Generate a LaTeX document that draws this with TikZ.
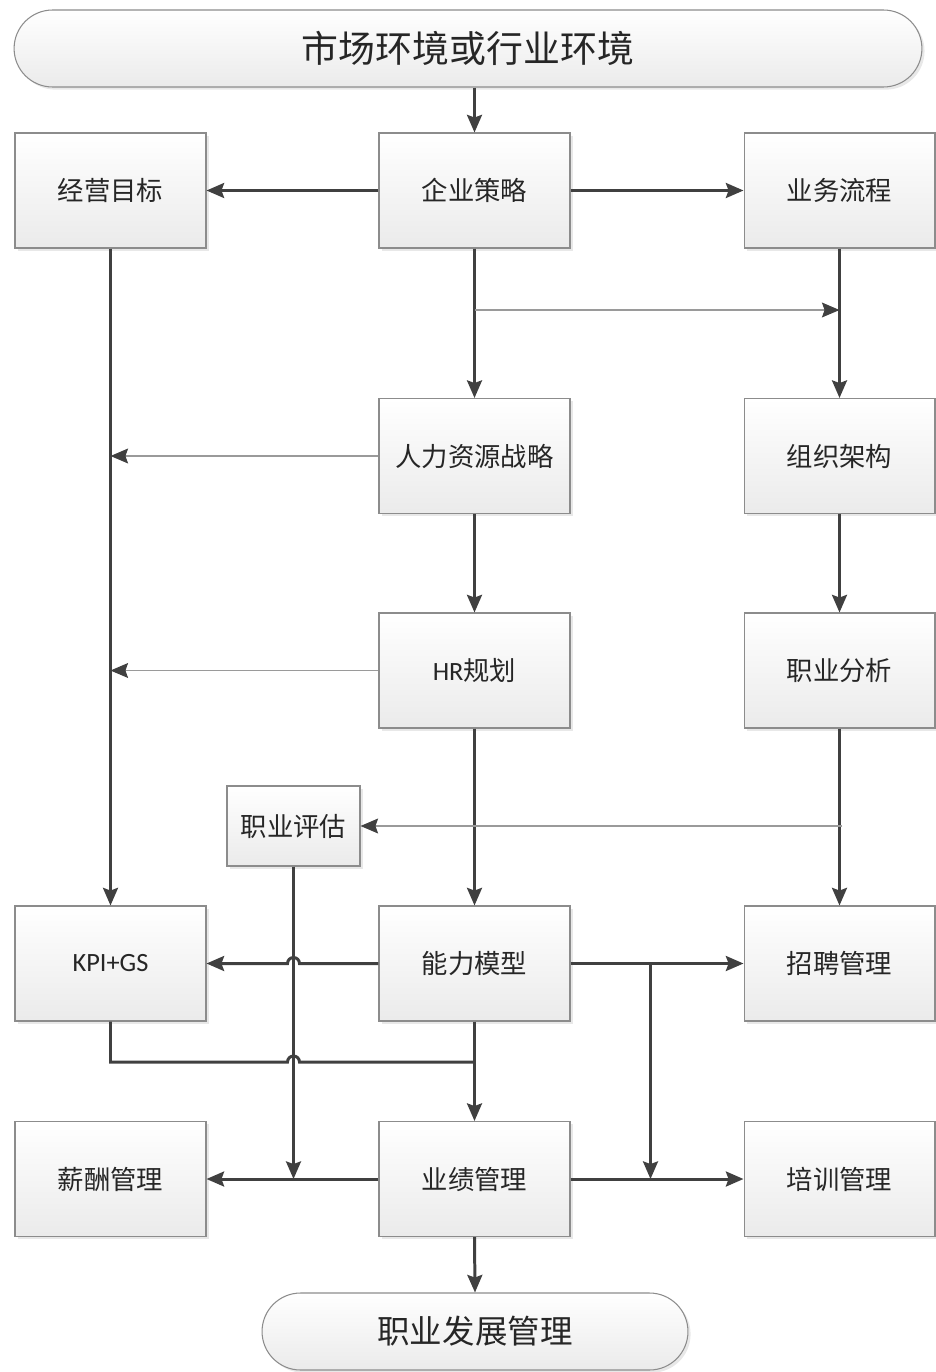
\documentclass[tikz,border=0pt]{standalone}
\usepackage{fontspec}
\newfontfamily\cjk{Noto Sans CJK SC}
\newfontfamily\lat{Carlito}
\usetikzlibrary{arrows.meta,shapes.misc,shadows,calc}
\definecolor{linegray}{HTML}{404040}
\definecolor{thingray}{HTML}{9A9A9A}
\definecolor{boxedge}{HTML}{8C8C8C}
\tikzset{
  box/.style={rectangle, draw=boxedge, line width=0.6pt, top color=white, bottom color=gray!16,
    minimum width=3.82cm, minimum height=2.3cm, inner sep=0pt, text=black!85,
    font=\cjk\fontsize{15}{18}\selectfont,
    drop shadow={shadow xshift=1.5pt, shadow yshift=-1.5pt, fill=gray!30, opacity=0.6}},
  smallbox/.style={box, minimum width=2.66cm, minimum height=1.6cm},
  pill/.style={box, rounded rectangle, minimum height=1.54cm},
  link/.style={draw=linegray, line width=1.7pt},
  flow/.style={link, -{Stealth[length=10pt,width=8.5pt,inset=1.5pt]}},
  thinflow/.style={draw=thingray, line width=0.6pt, -{Stealth[length=10pt,width=8.5pt,inset=1.5pt,color=linegray]}}
}
\begin{document}
\begin{tikzpicture}[x=0.02cm,y=-0.02cm]
    \useasboundingbox (0,0) rectangle (936,1372);
    % top and bottom
    \node[pill, minimum width=18.16cm, font=\cjk\fontsize{21}{24}\selectfont] (env) at (468,48.5) {市场环境或行业环境};
    \node[pill, minimum width=8.52cm, font=\cjk\fontsize{18.5}{22}\selectfont] (fz) at (475,1331.5) {职业发展管理};
    % first row
    \node[box] (jy) at (110.5,190.5) {经营目标};
    \node[box] (cl) at (474.5,190.5) {企业策略};
    \node[box] (lc) at (839.5,190.5) {业务流程};
    % second row
    \node[box] (hrzl) at (474.5,456) {人力资源战略};
    \node[box] (zz) at (839.5,456) {组织架构};
    % third row
    \node[box, font=\lat\fontsize{15}{18}\selectfont] (hrgh) at (474.5,670.5) {HR\cjk 规划};
    \node[box] (zf) at (839.5,670.5) {职业分析};
    \node[smallbox] (pg) at (293.5,826) {职业评估};
    % fourth row
    \node[box, font=\lat\fontsize{15}{18}\selectfont] (kpi) at (110.5,963.5) {KPI+GS};
    \node[box] (nl) at (474.5,963.5) {能力模型};
    \node[box] (zp) at (839.5,963.5) {招聘管理};
    % fifth row
    \node[box] (xc) at (110.5,1179) {薪酬管理};
    \node[box] (yj) at (474.5,1179) {业绩管理};
    \node[box] (px) at (839.5,1179) {培训管理};
    \coordinate (br) at (650.5,0);
    % connectors
    \draw[flow] (cl.north |- env.south) -- (cl.north);
    \draw[flow] (cl.west) -- (jy.east);
    \draw[flow] (cl.east) -- (lc.west);
    \draw[flow] (cl.south) -- (hrzl.north);
    \draw[thinflow] (cl.south |- 0,310) -- (lc.south |- 0,310);
    \draw[flow] (lc.south) -- (zz.north);
    \draw[flow] (jy.south) -- (kpi.north);
    \draw[thinflow] (hrzl.west) -- (jy.south |- hrzl.west);
    \draw[thinflow] (hrgh.west) -- (jy.south |- hrgh.west);
    \draw[flow] (hrzl.south) -- (hrgh.north);
    \draw[flow] (zz.south) -- (zf.north);
    \draw[flow] (hrgh.south) -- (nl.north);
    \draw[flow] (zf.south) -- (zp.north);
    \draw[thinflow] ([xshift=1.5pt]zf.south |- pg.east) -- (pg.east);
    \draw[flow] (pg.south) -- (pg.south |- xc.east);
    \draw[flow] (nl.west) -- ($(pg.south |- nl.west)+(6,0)$) arc (0:-180:6) -- (kpi.east);
    \draw[flow] (nl.east) -- (zp.west);
    \draw[flow] (br |- nl.east) -- (br |- yj.east);
    \draw[link] (kpi.south) -- (kpi.south |- 0,1062) -- ($(pg.south |- 0,1062)-(6,0)$) arc (-180:0:6) -- (nl.south |- 0,1062);
    \draw[flow] (nl.south) -- (yj.north);
    \draw[flow] (yj.west) -- (xc.east);
    \draw[flow] (yj.east) -- (px.west);
    \draw[flow] (yj.south) -- (fz.north);
\end{tikzpicture}
\end{document}
